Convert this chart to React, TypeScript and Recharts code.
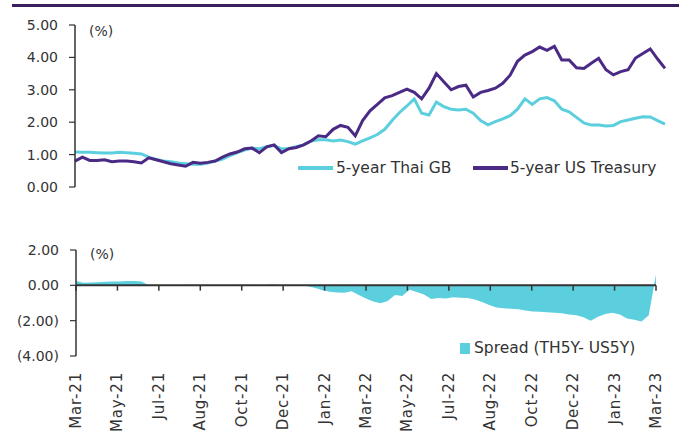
import {
  LineChart,
  Line,
  ComposedChart,
  Area,
  XAxis,
  YAxis,
  ReferenceLine,
} from "recharts";

// month labels under the spread panel
const dateLabels = [
  "Mar-21", "May-21", "Jul-21", "Aug-21", "Oct-21", "Dec-21", "Jan-22",
  "Mar-22", "May-22", "Jul-22", "Aug-22", "Oct-22", "Dec-22", "Jan-23", "Mar-23",
];

// 5-year Thai GB yield (%), read roughly weekly-ish off the picture
const thaiGB = [
  1.08, 1.07, 1.07, 1.06, 1.05, 1.05, 1.07, 1.06, 1.04, 1.02,
  0.92, 0.85, 0.8, 0.78, 0.74, 0.72, 0.7, 0.7, 0.74, 0.8,
  0.86, 0.97, 1.06, 1.14, 1.2, 1.18, 1.24, 1.28, 1.18, 1.19,
  1.24, 1.3, 1.42, 1.46, 1.46, 1.42, 1.45, 1.4, 1.32, 1.42,
  1.52, 1.62, 1.78, 2.05, 2.3, 2.5, 2.72, 2.28, 2.22, 2.62,
  2.48, 2.4, 2.38, 2.4, 2.28, 2.05, 1.92, 2.02, 2.1, 2.2,
  2.4, 2.72, 2.55, 2.72, 2.76, 2.66, 2.4, 2.32, 2.15, 1.98,
  1.91, 1.91, 1.88, 1.9, 2.02, 2.07, 2.12, 2.17, 2.16, 2.05,
  1.94,
];

// 5-year US Treasury yield (%)
const usTreasury = [
  0.8, 0.92, 0.82, 0.82, 0.84, 0.78, 0.8, 0.8, 0.78, 0.74,
  0.9, 0.84, 0.78, 0.72, 0.68, 0.64, 0.76, 0.73, 0.76, 0.8,
  0.92, 1.02, 1.08, 1.18, 1.2, 1.06, 1.24, 1.3, 1.06, 1.18,
  1.22, 1.3, 1.42, 1.58, 1.55, 1.78, 1.9, 1.84, 1.58, 2.05,
  2.35, 2.55, 2.75, 2.82, 2.92, 3.02, 2.92, 2.72, 3.05, 3.5,
  3.25, 3.0, 3.1, 3.14, 2.78, 2.92, 2.98, 3.05, 3.2, 3.45,
  3.88, 4.07, 4.18, 4.32, 4.22, 4.34, 3.92, 3.92, 3.68, 3.66,
  3.82, 3.97, 3.62, 3.46, 3.56, 3.62, 3.98, 4.12, 4.26, 3.95,
  3.66,
];

// Spread (TH5Y - US5Y), as drawn in the lower panel
const spread = [
  0.25, 0.14, 0.16, 0.18, 0.2, 0.22, 0.22, 0.24, 0.25, 0.22,
  0.02, 0.0, 0.0, 0.01, 0.0, 0.03, 0.04, 0.02, -0.03, 0.0,
  0.01, 0.02, 0.03, 0.01, 0.03, 0.02, 0.0, 0.05, 0.02, 0.02,
  0.0, 0.0, -0.05, -0.15, -0.28, -0.36, -0.4, -0.42, -0.34, -0.55,
  -0.75, -0.92, -1.02, -0.88, -0.55, -0.6, -0.25, -0.38, -0.52, -0.78,
  -0.72, -0.75, -0.68, -0.7, -0.72, -0.8, -0.95, -1.12, -1.25, -1.3,
  -1.33, -1.35, -1.42, -1.48, -1.5, -1.52, -1.55, -1.58, -1.65, -1.7,
  -1.8, -2.0, -1.78, -1.62, -1.55, -1.65, -1.88, -1.95, -2.05, -1.7,
  0.62,
];

const topTicks = [0, 1, 2, 3, 4, 5];
const bottomTicks = [-4, -2, 0, 2];

const CYAN = "#5CCFDE";
const PURPLE = "#4B2A85";
const AXIS = "#333333";
const FONT = "'DejaVu Sans', sans-serif";

const data = thaiGB.map((v, i) => ({
  i,
  thai: v,
  us: usTreasury[i],
  spread: spread[i],
}));
const lastIdx = data.length - 1;
const xTicks = dateLabels.map((_, k) => (k * lastIdx) / (dateLabels.length - 1));

const fmtParen = (v: number) =>
  v < 0 ? `(${Math.abs(v).toFixed(2)})` : v.toFixed(2);

const DateTick = (props: any) => {
  const { x, y, index } = props;
  return (
    <text
      x={x}
      y={y}
      transform={`rotate(-90 ${x} ${y})`}
      textAnchor="end"
      dominantBaseline="central"
      fontSize={15}
      letterSpacing={0.8}
      fontFamily={FONT}
      fill={AXIS}
    >
      {dateLabels[index]}
    </text>
  );
};

const yTickStyle = { fontSize: 14, fill: AXIS, fontFamily: FONT };
const legendText: React.CSSProperties = {
  fontFamily: FONT,
  fontSize: 15.5,
  color: AXIS,
  position: "absolute",
  whiteSpace: "nowrap",
  lineHeight: "18px",
};

export default function App() {
  return (
    <div style={{ position: "absolute", left: 0, top: 0, width: 686, height: 436, background: "#fff" }}>
      <div style={{ position: "absolute", left: 12, top: 4, width: 667, height: 3, background: "#3B1E5C" }} />

      <div style={{ position: "absolute", left: 0, top: 0 }}>
        <LineChart width={686} height={200} data={data} margin={{ top: 25, right: 21, bottom: 13, left: 15 }}>
          <XAxis dataKey="i" type="number" domain={[0, lastIdx]} hide />
          <YAxis
            domain={[0, 5]}
            ticks={topTicks}
            interval={0}
            tickFormatter={(v: number) => v.toFixed(2)}
            width={60}
            axisLine={{ stroke: AXIS, strokeWidth: 1.5 }}
            tickLine={{ stroke: AXIS, strokeWidth: 1.2 }}
            tickSize={6}
            tickMargin={11}
            tick={yTickStyle}
          />
          <Line dataKey="thai" stroke={CYAN} strokeWidth={3} dot={false} isAnimationActive={false} />
          <Line dataKey="us" stroke={PURPLE} strokeWidth={3} dot={false} isAnimationActive={false} />
        </LineChart>
      </div>

      <div style={{ position: "absolute", left: 0, top: 230 }}>
        <ComposedChart width={686} height={206} data={data} margin={{ top: 20, right: 30, bottom: 10, left: 16 }}>
          <XAxis
            dataKey="i"
            type="number"
            domain={[0, lastIdx]}
            ticks={xTicks}
            interval={0}
            height={70}
            axisLine={false}
            tickLine={false}
            tickSize={0}
            tickMargin={16}
            tick={<DateTick />}
          />
          <YAxis
            domain={[-4, 2]}
            ticks={bottomTicks}
            interval={0}
            tickFormatter={fmtParen}
            width={60}
            axisLine={{ stroke: AXIS, strokeWidth: 1.5 }}
            tickLine={{ stroke: AXIS, strokeWidth: 1.2 }}
            tickSize={6}
            tickMargin={11}
            tick={yTickStyle}
          />
          <Area
            dataKey="spread"
            type="linear"
            fill={CYAN}
            fillOpacity={1}
            stroke="none"
            baseValue={0}
            isAnimationActive={false}
          />
          <ReferenceLine y={0} stroke={AXIS} strokeWidth={2} />
          {xTicks.map((t) => (
            <ReferenceLine
              key={t}
              segment={[{ x: t, y: 0 }, { x: t, y: -0.3 }]}
              stroke={AXIS}
              strokeWidth={1.5}
            />
          ))}
        </ComposedChart>
      </div>

      <div style={{ ...legendText, fontSize: 14, left: 89, top: 22 }}>(%)</div>
      <div style={{ ...legendText, fontSize: 14, left: 90, top: 245 }}>(%)</div>

      {/* legend, top panel */}
      <div style={{ position: "absolute", left: 298, top: 166, width: 35, height: 4, background: CYAN }} />
      <div style={{ ...legendText, left: 336, top: 159 }}>5-year Thai GB</div>
      <div style={{ position: "absolute", left: 473, top: 166, width: 35, height: 4, background: PURPLE }} />
      <div style={{ ...legendText, left: 510, top: 159 }}>5-year US Treasury</div>

      {/* legend, spread panel */}
      <div style={{ position: "absolute", left: 460, top: 343, width: 10, height: 11, background: CYAN }} />
      <div style={{ ...legendText, left: 474, top: 339 }}>Spread (TH5Y- US5Y)</div>
    </div>
  );
}
